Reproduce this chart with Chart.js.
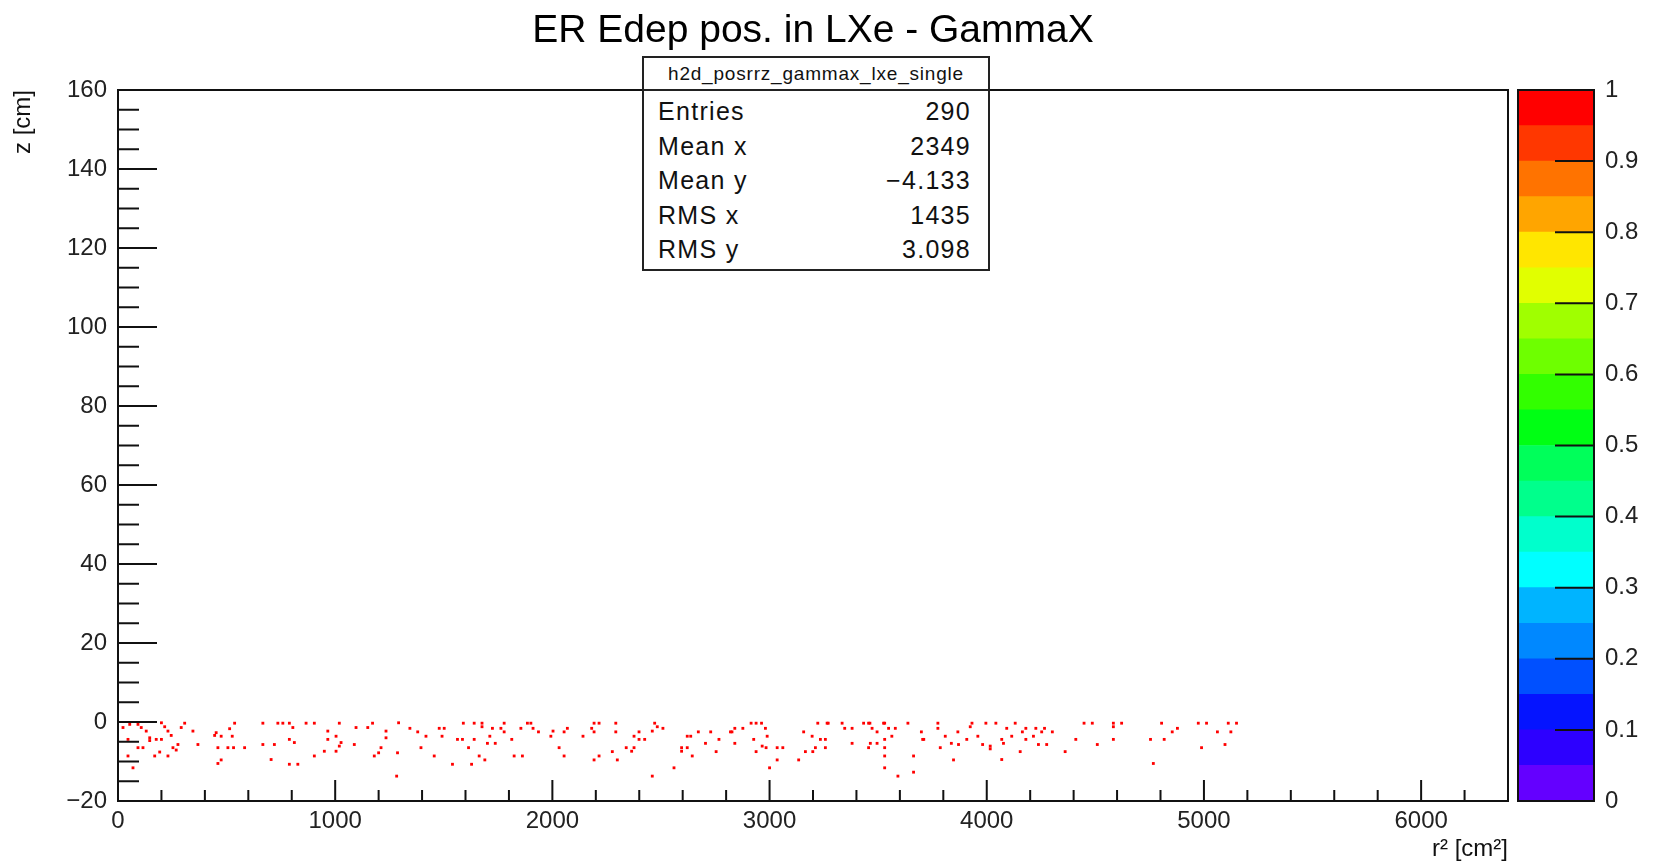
<!DOCTYPE html>
<html>
<head>
<meta charset="utf-8">
<script src="https://cdn.jsdelivr.net/npm/chart.js@4"></script>
<style>
  html, body { margin: 0; padding: 0; background: #fff; overflow: hidden; }
  #wrap { position: relative; width: 1653px; height: 867px; }
  #main { position: absolute; left: 0; top: 0; }
  #palette { position: absolute; left: 1500px; top: 0; }
  #stats {
    position: absolute; left: 642px; top: 56px; width: 344px; height: 211px;
    border: 2px solid #222; background: #fff; color: #111;
    font-family: "Liberation Sans", Arial, sans-serif;
  }
  #stats .hdr {
    height: 31px; line-height: 31px; border-bottom: 2px solid #222;
    text-align: center; font-size: 19px; letter-spacing: 0.8px;
  }
  #stats .rows { padding: 3px 17px 0 14px; }
  #stats .row {
    display: flex; justify-content: space-between; height: 34.5px; line-height: 34.5px;
    font-size: 25px; letter-spacing: 1.3px;
  }
</style>
</head>
<body>
<div id="wrap">
  <canvas id="main" width="1653" height="867"></canvas>
  <canvas id="palette" width="153" height="867"></canvas>
  <div id="stats">
    <div class="hdr">h2d_posrrz_gammax_lxe_single</div>
    <div class="rows" id="statRows"></div>
  </div>
</div>
<script>
// r^2 [cm^2] and z [cm] of each filled bin
const r2 = [
  23, 54, 92, 107, 130, 146, 146, 176, 200, 200,
  215, 230, 245, 46, 92, 115, 169, 192, 230, 253,
  268, 276, 46, 69, 291, 307, 345, 368, 452, 445,
  475, 514, 537, 526, 460, 506, 532, 583, 460, 475,
  667, 667, 720, 705, 736, 759, 789, 805, 789, 812,
  789, 828, 866, 904, 904, 950, 966, 966, 1004, 1019,
  1019, 1004, 1088, 1096, 1150, 1172, 1180, 1200, 1211, 1234,
  1234, 1283, 1287, 1292, 1027,
  1344, 1380, 1395, 1418, 1456, 1479, 1502, 1492, 1540, 1563,
  1586, 1590, 1614, 1628, 1640, 1640, 1663, 1676, 1676, 1689,
  1701, 1712, 1724, 1737, 1763, 1778, 1778, 1813, 1824, 1862,
  1855, 1885, 1901, 1911, 1936, 1993, 2003, 2031, 2054, 2054,
  2069, 2141, 2181, 2192, 2192, 2215, 2192, 2215, 2276, 2292,
  2292, 2299, 2340, 2365, 2376, 2376, 2399, 2399, 2425, 2460,
  2471, 2483, 2509, 2460, 2560,
  2595, 2595, 2621, 2621, 2637, 2644, 2672, 2705, 2729, 2754,
  2767, 2820, 2840, 2840, 2877, 2915, 2938, 2963, 2981, 2927,
  2989, 2966, 2938, 2984, 3035, 3061, 3035, 3000, 3134, 3157,
  3196, 3165, 3199, 3211, 3222, 3234, 3257, 3257, 3265, 3334,
  3346, 3380, 3380, 3433, 3456, 3472, 3495, 3525, 3548, 3579,
  3456, 3464, 3495, 3530, 3530, 3530, 3530, 3563, 3591, 3637,
  3663, 3663, 3699, 3705, 3775, 3775, 3786, 3809, 3837, 3847,
  3867, 2827, 3270, 3462, 3530, 3710,
  3870, 3908, 3924, 3932, 3959, 3981, 3996, 4016, 4016, 4042,
  4069, 4069, 4077, 4092, 4115, 4131, 4154, 4164, 4180, 4180,
  4215, 4226, 4238, 4253, 4266, 4276, 4302, 4361, 4410, 4448,
  4486, 4509, 4583, 4583, 4583, 4621, 4754, 4767, 4805, 4817,
  4854, 4878, 4974, 5012, 4989, 5062, 5097, 5112, 5124, 5150
];
const z = [
  -1.4, -0.6, -0.6, -1.4, -2.3, -4.0, -4.7, -4.4, -4.4, -0.2,
  -1.2, -2.3, -3.4, -4.4, -6.5, -6.5, -8.6, -7.6, -8.6, -6.5,
  -7.1, -5.7, -8.6, -11.6, -1.4, -0.3, -2.3, -5.7, -2.7, -3.4,
  -3.6, -1.7, -0.3, -3.6, -6.5, -6.5, -6.5, -6.5, -10.5, -9.6,
  -0.3, -5.7, -5.7, -9.5, -0.3, -0.3, -0.3, -1.4, -4.4, -5.2,
  -10.7, -10.7, -0.3, -0.3, -8.6, -7.4, -2.3, -4.4, -3.6, -0.3,
  -6.1, -7.4, -5.7, -1.4, -1.4, -0.3, -8.6, -7.8, -6.5, -2.3,
  -4.0, -13.7, -7.8, -0.2, -5.2,
  -1.6, -2.5, -6.5, -3.6, -8.6, -1.6, -1.6, -3.6, -10.7, -4.4,
  -4.4, -0.3, -6.5, -10.7, -0.3, -4.4, -8.6, -0.3, -1.2, -9.6,
  -5.4, -3.6, -1.6, -5.4, -1.6, -0.3, -2.5, -4.4, -8.6, -8.6,
  -1.6, -0.3, -0.3, -1.6, -2.5, -3.6, -2.3, -6.5, -8.6, -2.5,
  -1.6, -3.6, -1.6, -0.3, -2.5, -0.3, -9.6, -8.6, -7.5, -0.3,
  -2.5, -9.6, -6.5, -7.4, -6.5, -3.6, -2.5, -4.4, -4.4, -2.3,
  -0.3, -1.2, -1.6, -13.7, -11.6,
  -6.5, -7.4, -6.5, -3.6, -3.6, -8.6, -2.5, -5.4, -2.5, -7.5,
  -4.4, -2.5, -1.6, -5.4, -1.6, -0.3, -0.3, -0.3, -1.6, -4.4,
  -3.6, -6.1, -7.5, -6.5, -6.5, -6.5, -9.6, -11.6, -9.6, -2.5,
  -3.6, -7.5, -7.5, -6.5, -0.3, -4.4, -4.4, -6.5, -0.3, -0.3,
  -1.6, -1.6, -5.4, -0.3, -0.3, -1.6, -2.5, -0.3, -1.6, -1.6,
  -6.5, -5.4, -5.4, -4.4, -6.5, -8.6, -11.6, -3.6, -13.7, -0.3,
  -8.6, -12.7, -2.5, -4.4, -0.3, -1.6, -6.5, -3.6, -5.4, -9.6,
  -2.5, -2.5, -0.3, -0.3, -0.3, -4.4,
  -5.7, -4.4, -1.2, -0.3, -3.6, -5.7, -0.3, -6.1, -6.8, -0.3,
  -4.4, -9.5, -5.4, -1.6, -3.6, -0.3, -7.5, -2.5, -1.6, -4.4,
  -3.6, -1.6, -5.7, -2.5, -1.6, -5.7, -2.5, -7.5, -4.4, -0.3,
  -0.3, -5.7, -0.3, -1.2, -4.4, -0.3, -4.4, -10.5, -0.3, -4.4,
  -2.5, -1.6, -0.3, -0.3, -6.5, -2.5, -5.7, -0.3, -2.5, -0.3
];

const xTickValues = [0, 1000, 2000, 3000, 4000, 5000, 6000];
const yTickValues = [-20, 0, 20, 40, 60, 80, 100, 120, 140, 160];
const paletteTickValues = [0, 0.1, 0.2, 0.3, 0.4, 0.5, 0.6, 0.7, 0.8, 0.9, 1];

const statLabels = ['Entries', 'Mean x', 'Mean y', 'RMS x', 'RMS y'];
const statValues = ['290', '2349', '\u22124.133', '1435', '3.098'];

// palette, bottom (0) to top (1)
const paletteColors = [
  '#6400ff', '#2d00ff', '#0514ff', '#0050ff', '#0088ff',
  '#00b4ff', '#00ffff', '#00ffcc', '#00ff8c', '#00ff5a',
  '#00ff14', '#32ff00', '#6eff00', '#a0ff00', '#e1ff00',
  '#ffe600', '#ffa500', '#ff7300', '#ff3700', '#ff0000'
];
const paletteStep = 0.05;

const rows = document.getElementById('statRows');
statLabels.forEach((l, i) => {
  const d = document.createElement('div');
  d.className = 'row';
  d.innerHTML = '<span>' + l + '</span><span>' + statValues[i] + '</span>';
  rows.appendChild(d);
});

const FONT = "'Liberation Sans', Arial, sans-serif";
const fmt = v => (v < 0 ? '\u2212' + Math.abs(v) : String(v));

const rootFrame = {
  id: 'rootFrame',
  afterDatasetsDraw(chart) {
    const {ctx, chartArea: a, scales: {x, y}} = chart;
    ctx.save();
    ctx.strokeStyle = '#111';
    ctx.lineWidth = 2;
    ctx.beginPath();
    for (let v = -20; v <= 160; v += 5) {
      const py = y.getPixelForValue(v);
      const len = v % 20 === 0 ? 39 : 21;
      ctx.moveTo(a.left, py);
      ctx.lineTo(a.left + len, py);
    }
    for (let v = 0; v <= 6400; v += 200) {
      const px = x.getPixelForValue(v);
      const len = v % 1000 === 0 ? 21 : 11;
      ctx.moveTo(px, a.bottom);
      ctx.lineTo(px, a.bottom - len);
    }
    ctx.stroke();
    ctx.strokeRect(a.left, a.top, a.right - a.left, a.bottom - a.top);
    ctx.restore();
  }
};

new Chart(document.getElementById('main'), {
  type: 'scatter',
  data: {
    datasets: [{
      data: r2.map((v, i) => ({x: v, y: z[i]})),
      backgroundColor: '#ff0000',
      borderWidth: 0,
      pointStyle: 'rect',
      pointRadius: 2
    }]
  },
  options: {
    responsive: false,
    animation: false,
    layout: {padding: {left: 0, right: 145, top: 0, bottom: 0}},
    plugins: {
      legend: {display: false},
      tooltip: {enabled: false},
      title: {
        display: true,
        fullSize: false,
        text: 'ER Edep pos. in LXe - GammaX',
        color: '#000',
        font: {family: FONT, size: 39, weight: 'normal', lineHeight: 1.2},
        padding: {top: 8, bottom: 35.2}
      }
    },
    scales: {
      x: {
        type: 'linear', min: 0, max: 6400,
        grid: {display: false, drawTicks: false},
        border: {display: false},
        afterBuildTicks: s => { s.ticks = xTickValues.map(v => ({value: v})); },
        ticks: {padding: 6, maxRotation: 0, autoSkip: false, callback: fmt,
                color: '#222', font: {family: FONT, size: 24}},
        title: {display: true, text: 'r\u00b2 [cm\u00b2]', align: 'end', color: '#111',
                font: {family: FONT, size: 24}, padding: {top: 0, bottom: 3}},
        afterFit: s => { s.height = 66; }
      },
      y: {
        type: 'linear', min: -20, max: 160,
        grid: {display: false, drawTicks: false},
        border: {display: false},
        afterBuildTicks: s => { s.ticks = yTickValues.map(v => ({value: v})); },
        ticks: {padding: 11, autoSkip: false, callback: fmt,
                color: '#222', font: {family: FONT, size: 24}},
        title: {display: true, text: 'z [cm]', align: 'end', color: '#111',
                font: {family: FONT, size: 24}, padding: {top: 9, bottom: 0}},
        afterFit: s => { s.width = 118; }
      }
    }
  },
  plugins: [rootFrame]
});

const paletteFrame = {
  id: 'paletteFrame',
  afterDatasetsDraw(chart) {
    const {ctx, chartArea: a, scales: {y}} = chart;
    ctx.save();
    ctx.strokeStyle = '#111';
    ctx.lineWidth = 2;
    ctx.beginPath();
    paletteTickValues.forEach(v => {
      const py = y.getPixelForValue(v);
      ctx.moveTo(a.right - 39, py);
      ctx.lineTo(a.right, py);
    });
    ctx.stroke();
    ctx.strokeRect(a.left, a.top, a.right - a.left, a.bottom - a.top);
    ctx.restore();
  }
};

new Chart(document.getElementById('palette'), {
  type: 'bar',
  data: {
    labels: [''],
    datasets: paletteColors.map(c => ({
      data: [paletteStep],
      backgroundColor: c,
      borderWidth: 0,
      barPercentage: 1,
      categoryPercentage: 1
    }))
  },
  options: {
    responsive: false,
    animation: false,
    layout: {padding: {left: 18, right: 0, top: 90, bottom: 66}},
    plugins: {legend: {display: false}, tooltip: {enabled: false}},
    scales: {
      x: {stacked: true, display: false},
      y: {
        stacked: true, position: 'right', min: 0, max: 1,
        grid: {display: false, drawTicks: false},
        border: {display: false},
        afterBuildTicks: s => { s.ticks = paletteTickValues.map(v => ({value: v})); },
        ticks: {padding: 11, autoSkip: false, callback: v => String(v),
                color: '#222', font: {family: FONT, size: 24}},
        afterFit: s => { s.width = 59; }
      }
    }
  },
  plugins: [paletteFrame]
});
</script>
</body>
</html>
